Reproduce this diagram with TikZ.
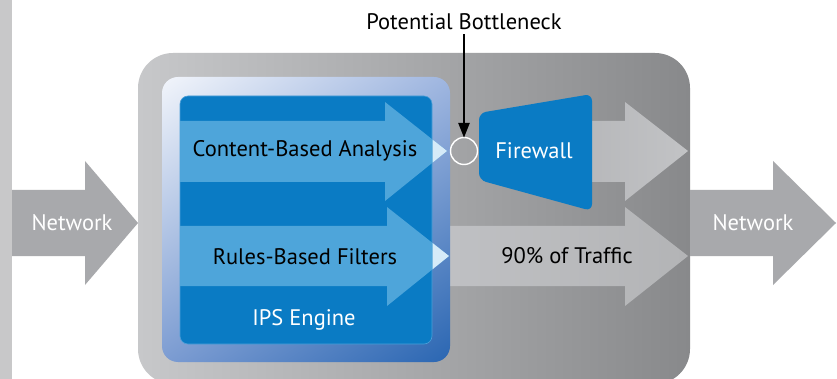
\documentclass[tikz,border=0pt]{standalone}
\usepackage{fontspec}
\setmainfont{PT Sans}
\usetikzlibrary{arrows.meta,shadings}
\definecolor{leftbar}{HTML}{C8C8C9}
\definecolor{netgray}{HTML}{A8A9AC}
\definecolor{boxl}{HTML}{C7C8CA}
\definecolor{boxr}{HTML}{88898B}
\definecolor{ipsblue}{HTML}{0A7BC4}
\definecolor{ipsline}{HTML}{4C9FD8}
\definecolor{lblue}{HTML}{4EA5DA}
\definecolor{paleblue}{HTML}{D6EBF8}
\definecolor{frameUL}{HTML}{F2F5FB}
\definecolor{frameUR}{HTML}{9FB6E0}
\definecolor{frameLL}{HTML}{7C9CD2}
\definecolor{frameLR}{HTML}{2A66B2}
\definecolor{arrl}{HTML}{B4B5B8}
\definecolor{arrr}{HTML}{C2C3C5}
\definecolor{trl}{HTML}{BFC0C3}
\definecolor{trr}{HTML}{B3B4B6}
\tikzset{
  lbl/.style={font=\fontsize{22.5}{26}\selectfont, inner sep=0pt},
  wlbl/.style={lbl, text=white},
  bnring/.style={circle, draw=white, line width=1.4pt, minimum size=27pt, inner sep=0pt},
  pointer/.style={line width=2.6pt, -{Triangle[length=15pt,width=11pt]}, shorten >=-1pt}
}
\begin{document}
\begin{tikzpicture}[x=1pt,y=-1pt]
\useasboundingbox (0,0) rectangle (837,379);
\fill[white] (0,0) rectangle (837,379);
\fill[leftbar] (0,0) rectangle (12,379);
% left network arrow
\fill[netgray] (12,190) -- (85,190) -- (85,161) -- (138,223) -- (85,285) -- (85,256) -- (12,256) -- cycle;
% big gray box
\shade[left color=boxl, right color=boxr, rounded corners=35] (138,53) rectangle (690,384);
% right network arrow
\fill[netgray] (690,190) -- (773,190) -- (773,161) -- (836,223) -- (773,285) -- (773,256) -- (690,256) -- cycle;
% gray arrows inside
\shade[left color=arrl, right color=arrr] (560,121) -- (625,121) -- (625,102) -- (688,151) -- (625,201) -- (625,182) -- (560,182) -- cycle;
\shade[left color=trl, right color=trr] (450,226) -- (625,226) -- (625,207) -- (688,256) -- (625,306) -- (625,286) -- (450,286) -- cycle;
% IPS frame
\shade[upper left=frameUL, upper right=frameUR, lower left=frameLL, lower right=frameLR, rounded corners=16] (162,77) rectangle (450,362);
\filldraw[fill=ipsblue, draw=ipsline, line width=0.6pt, rounded corners=8] (180,96) rectangle (432,344);
% light blue arrows
\fill[lblue] (180,121) -- (385,121) -- (385,102) -- (447,151) -- (385,201) -- (385,182) -- (180,182) -- cycle;
\fill[lblue] (180,226) -- (387,226) -- (387,207) -- (449,256) -- (387,306) -- (387,286) -- (180,286) -- cycle;
\begin{scope}
\clip (432.5,0) rectangle (470,379);
\fill[paleblue] (385,102) -- (447,151) -- (385,201) -- cycle;
\fill[paleblue] (387,207) -- (449,256) -- (387,306) -- cycle;
\end{scope}
% firewall
\fill[ipsblue, rounded corners=7] (479,113) -- (592,94) -- (592,211) -- (479,180) -- cycle;
% texts
\node[wlbl] (netin) at (72,223) {Network};
\node[wlbl] (netout) at (753,223) {Network};
\node[lbl] (cba) at (305,151) {Content-Based Analysis};
\node[lbl] (rbf) at (305,257) {Rules-Based Filters};
\node[wlbl] (ips) at (304,320) {IPS Engine};
\node[wlbl] (fw) at (534,151) {Firewall};
\node[lbl] (traffic) at (567,256) {90\% of Traffic};
\node[lbl] (pb) at (464,22) {Potential Bottleneck};
\node[bnring] (bn) at (464,151) {};
\draw[pointer] ([yshift=-4pt]pb.south) -- (bn.north);
\end{tikzpicture}
\end{document}
